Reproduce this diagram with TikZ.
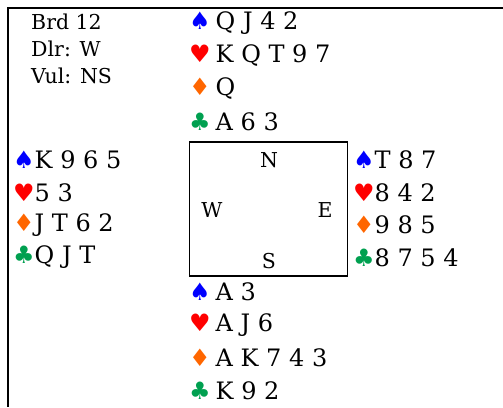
\documentclass[tikz,border=0pt]{standalone}
\usepackage{fontspec}
\setmainfont{DejaVu Serif}
\newfontfamily\suitfont{DejaVu Sans}
\definecolor{spadecol}{RGB}{0,0,255}
\definecolor{heartcol}{RGB}{255,0,0}
\definecolor{diamcol}{RGB}{255,102,0}
\definecolor{clubcol}{RGB}{0,160,80}
\newcommand{\spadesym}{{\suitfont\fontsize{24}{28}\selectfont\color{spadecol}♠}}
\newcommand{\heartsym}{{\suitfont\fontsize{24}{28}\selectfont\color{heartcol}♥}}
\newcommand{\diamsym}{{\suitfont\fontsize{24}{28}\selectfont\color{diamcol}♦}}
\newcommand{\clubsym}{{\suitfont\fontsize{24}{28}\selectfont\color{clubcol}♣}}
\begin{document}
\begin{tikzpicture}[x=1pt,y=-1pt,
  hand/.style={anchor=west,inner sep=0pt,font=\fontsize{24}{28}\selectfont},
  info/.style={anchor=west,inner sep=0pt,font=\fontsize{20.5}{24}\selectfont},
  seat/.style={inner sep=0pt,font=\fontsize{20.5}{24}\selectfont}]
\useasboundingbox (0,0) rectangle (503,407);
\draw[line width=2pt] (503,8) -| (8,407);
% deal info
\node[info] (brd) at (31,22) {Brd 12};
\node[info] (dlr) at (31,49) {Dlr: W};
\node[info] (vul) at (31,76) {Vul: NS};
% table
\node[draw,line width=1.8pt,minimum width=158pt,minimum height=134pt] (table) at (268.5,209) {};
\node[seat] (N) at (269,160) {N};
\node[seat] (W) at (212,210) {W};
\node[seat] (E) at (325,210) {E};
\node[seat] (S) at (269,261) {S};
% hands
\foreach \s/\c [count=\i] in {\spadesym/Q J 4 2,\heartsym/K Q T 9 7,\diamsym/Q,\clubsym/A 6 3}
  \node[hand] (north\i) at (189,{23+33*(\i-1)}) {\s\hspace{5pt}\c};
\foreach \s/\c [count=\i] in {\spadesym/K 9 6 5,\heartsym/5 3,\diamsym/J T 6 2,\clubsym/Q J T}
  \node[hand] (west\i) at (13,{160+32.5*(\i-1)}) {\s\c};
\foreach \s/\c [count=\i] in {\spadesym/T 8 7,\heartsym/8 4 2,\diamsym/9 8 5,\clubsym/8 7 5 4}
  \node[hand] (east\i) at (353,{160+32.5*(\i-1)}) {\s\c};
\foreach \s/\c [count=\i] in {\spadesym/A 3,\heartsym/A J 6,\diamsym/A K 7 4 3,\clubsym/K 9 2}
  \node[hand] (south\i) at (189,{292+33*(\i-1)}) {\s\hspace{5pt}\c};
\end{tikzpicture}
\end{document}
